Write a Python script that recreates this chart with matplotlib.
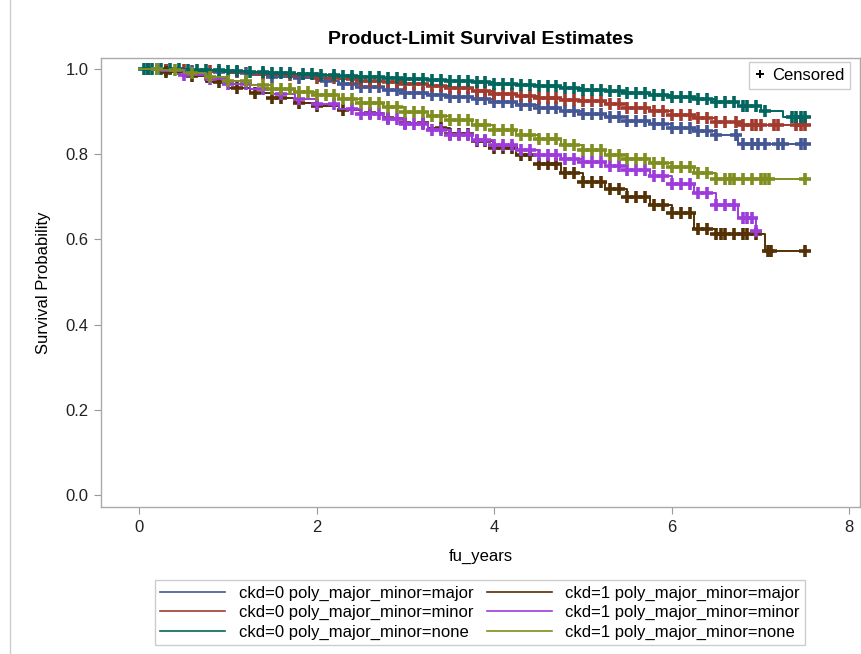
import numpy as np
import matplotlib
matplotlib.use("Agg")
import matplotlib.pyplot as plt
from matplotlib.lines import Line2D

plt.rcParams['font.family'] = ['Liberation Sans', 'DejaVu Sans']

# времена шагов и оценки выживаемости по группам
grid = [0, 0.25, 0.5, 0.75, 1.0, 1.25, 1.5, 1.75, 2.0, 2.25, 2.5, 2.75, 3.0, 3.25, 3.5,
        3.75, 4.0, 4.25, 4.5, 4.75, 5.0, 5.25, 5.5, 5.75, 6.0, 6.25, 6.5, 6.75, 7.0, 7.25, 7.5]

blue_t = grid
blue_s = [1.0, .999, .996, .993, .990, .986, .982, .978, .973, .965, .958, .951, .945, .940, .935,
          .929, .923, .916, .909, .902, .895, .887, .879, .870, .862, .855, .845, .824, .824, .824, .824]

red_t = grid
red_s = [1.0, .999, .997, .995, .992, .989, .986, .983, .980, .977, .973, .969, .965, .960, .955,
         .949, .942, .936, .932, .928, .924, .917, .909, .901, .893, .885, .875, .868, .868, .868, .868]

teal_t = grid
teal_s = [1.0, 1.0, .999, .997, .995, .993, .991, .989, .987, .984, .982, .979, .977, .974, .972,
          .969, .966, .963, .960, .956, .952, .948, .944, .939, .934, .929, .922, .914, .902, .887, .887]

brown_t = [0, 0.25, 0.5, 0.75, 1.0, 1.25, 1.5, 1.75, 2.0, 2.25, 2.5, 2.75, 3.0, 3.25, 3.5,
           3.75, 4.0, 4.25, 4.5, 4.75, 5.0, 5.25, 5.5, 5.75, 6.0, 6.25, 6.5, 6.75, 7.0, 7.05, 7.5]
brown_s = [1.0, .994, .983, .970, .956, .945, .933, .921, .913, .905, .896, .885, .874, .862, .848,
           .832, .815, .798, .778, .756, .735, .718, .700, .682, .663, .625, .612, .612, .612, .574, .574]

purple_t = [0, 0.25, 0.5, 0.75, 1.0, 1.25, 1.5, 1.75, 2.0, 2.25, 2.5, 2.75, 3.0, 3.25, 3.5,
            3.75, 4.0, 4.25, 4.5, 4.75, 5.0, 5.25, 5.5, 5.75, 6.0, 6.25, 6.5, 6.75, 6.95]
purple_s = [1.0, .996, .987, .976, .965, .953, .941, .929, .918, .906, .894, .882, .870, .858, .846,
            .834, .822, .810, .799, .790, .781, .772, .763, .750, .731, .708, .680, .650, .620]

olive_t = grid
olive_s = [1.0, .997, .990, .982, .972, .962, .954, .946, .938, .929, .920, .910, .900, .891, .880,
           .869, .858, .846, .835, .822, .809, .799, .788, .779, .770, .757, .742, .742, .742, .742, .742]

# цензурированные наблюдения
blue_c = [0.1, 0.3, 0.6, 0.9, 1.2, 1.5, 1.8, 2.1, 2.3, 2.4, 2.5, 2.6, 2.7, 2.8, 2.9, 3.0, 3.1, 3.2,
          3.3, 3.4, 3.5, 3.6, 3.7, 3.8, 3.9, 4.0, 4.1, 4.2, 4.3, 4.4, 4.5, 4.6, 4.7, 4.8, 4.9, 5.0,
          5.1, 5.2, 5.3, 5.4, 5.5, 5.6, 5.7, 5.8, 5.9, 6.0, 6.1, 6.2, 6.3, 6.4, 6.5, 6.72, 6.8, 6.9,
          6.97, 7.05, 7.2, 7.25, 7.45, 7.5]
red_c = [0.1, 0.3, 0.5, 0.8, 1.1, 1.4, 1.7, 2.0, 2.2, 2.4, 2.5, 2.6, 2.7, 2.8, 2.9, 3.0, 3.1, 3.2,
         3.3, 3.4, 3.5, 3.6, 3.7, 3.8, 3.9, 4.0, 4.1, 4.2, 4.3, 4.4, 4.5, 4.6, 4.7, 4.8, 4.9, 5.0,
         5.1, 5.2, 5.3, 5.4, 5.5, 5.6, 5.7, 5.8, 5.9, 6.0, 6.1, 6.2, 6.3, 6.4, 6.5, 6.6, 6.72, 6.8,
         6.9, 6.95, 7.0, 7.15, 7.2, 7.4, 7.45, 7.5]
teal_c = [0.05, 0.1, 0.15, 0.25, 0.35, 0.45, 0.55, 0.65, 0.75, 0.9, 1.0, 1.1, 1.25, 1.4, 1.5, 1.6,
          1.7, 1.85, 1.95, 2.05, 2.2, 2.3, 2.4, 2.5, 2.6, 2.7, 2.8, 2.9, 3.0, 3.1, 3.2, 3.3, 3.4,
          3.5, 3.6, 3.7, 3.8, 3.9, 4.0, 4.1, 4.2, 4.3, 4.4, 4.5, 4.6, 4.7, 4.8, 4.9, 5.0, 5.1, 5.2,
          5.3, 5.4, 5.5, 5.6, 5.7, 5.8, 5.9, 6.0, 6.1, 6.2, 6.3, 6.4, 6.5, 6.6, 6.7, 6.8, 6.85,
          6.95, 7.05, 7.35, 7.4, 7.45, 7.5]
brown_c = [0.3, 0.6, 0.9, 1.1, 1.3, 1.5, 1.6, 1.8, 2.0, 2.3, 2.6, 2.8, 3.0, 3.2, 3.4, 3.5, 3.6,
           3.7, 3.8, 3.9, 4.0, 4.1, 4.2, 4.3, 4.4, 4.5, 4.6, 4.7, 4.8, 4.9, 5.0, 5.1, 5.2, 5.3, 5.4,
           5.5, 5.6, 5.7, 5.8, 5.9, 6.0, 6.1, 6.2, 6.3, 6.4, 6.5, 6.55, 6.6, 6.7, 6.8, 6.85, 6.95,
           7.08, 7.12, 7.5]
purple_c = [0.2, 0.5, 0.8, 1.0, 1.2, 1.4, 1.6, 1.8, 2.0, 2.2, 2.4, 2.5, 2.6, 2.7, 2.8, 2.9, 3.0,
            3.1, 3.2, 3.3, 3.4, 3.5, 3.6, 3.7, 3.8, 3.9, 4.0, 4.1, 4.2, 4.3, 4.4, 4.5, 4.6, 4.7, 4.8,
            4.9, 5.0, 5.1, 5.2, 5.3, 5.4, 5.5, 5.6, 5.7, 5.8, 5.9, 6.0, 6.1, 6.2, 6.3, 6.4, 6.5,
            6.6, 6.7, 6.8, 6.85, 6.9, 6.95]
olive_c = [0.2, 0.4, 0.6, 0.8, 1.0, 1.2, 1.4, 1.5, 1.6, 1.7, 1.8, 1.9, 2.0, 2.1, 2.2, 2.3, 2.4,
           2.5, 2.6, 2.7, 2.8, 2.9, 3.0, 3.1, 3.2, 3.3, 3.4, 3.5, 3.6, 3.7, 3.8, 3.9, 4.0, 4.1,
           4.2, 4.3, 4.4, 4.5, 4.6, 4.7, 4.8, 4.9, 5.0, 5.1, 5.2, 5.3, 5.4, 5.5, 5.6, 5.7, 5.8,
           5.9, 6.0, 6.1, 6.2, 6.3, 6.4, 6.5, 6.6, 6.65, 6.7, 6.8, 6.9, 7.0, 7.05, 7.1, 7.5]

groups = [
    ("ckd=0 poly_major_minor=major", blue_t, blue_s, blue_c, "#445694"),
    ("ckd=0 poly_major_minor=minor", red_t, red_s, red_c, "#A23A2E"),
    ("ckd=0 poly_major_minor=none", teal_t, teal_s, teal_c, "#01665E"),
    ("ckd=1 poly_major_minor=major", brown_t, brown_s, brown_c, "#543005"),
    ("ckd=1 poly_major_minor=minor", purple_t, purple_s, purple_c, "#9D3CDB"),
    ("ckd=1 poly_major_minor=none", olive_t, olive_s, olive_c, "#7F8E1F"),
]

fig = plt.figure(figsize=(8.62, 6.54), dpi=100)
ax = fig.add_axes([101 / 862, 1 - 507 / 654, 759 / 862, 449 / 654])

handles = []
for label, t, s, cens, color in groups:
    t = np.array(t)
    s = np.array(s)
    ax.plot(t, s, drawstyle="steps-post", color=color, lw=1.4)
    c = np.array(cens)
    idx = np.searchsorted(t, c, side="right") - 1
    ax.plot(c, s[idx], ls="none", marker="+", ms=8, mew=2.6, color=color)
    handles.append(Line2D([0], [0], color=color, lw=1.2, label=label))

ax.set_xlim(-0.43, 8.12)
ax.set_ylim(-0.028, 1.026)
ax.set_xticks([0, 2, 4, 6, 8])
ax.set_yticks([0.0, 0.2, 0.4, 0.6, 0.8, 1.0])
ax.set_yticklabels(["0.0", "0.2", "0.4", "0.6", "0.8", "1.0"])
ax.tick_params(direction="out", length=5, color="#999999", labelsize=12, pad=4, labelcolor="#222222")
for sp in ax.spines.values():
    sp.set_color("#aaaaaa")
    sp.set_linewidth(1.0)

ax.set_title("Product-Limit Survival Estimates", fontsize=14, fontweight="bold", pad=10)
ax.set_xlabel("fu_years", fontsize=12, labelpad=10)
ax.set_ylabel("Survival Probability", fontsize=12, labelpad=10)

cens_handle = Line2D([0], [0], ls="none", marker="+", ms=6, mew=1.4, color="black", label="Censored")
leg1 = ax.legend(handles=[cens_handle], loc="upper right", fontsize=12, handlelength=0.6,
                 handletextpad=0.4, borderpad=0.35, borderaxespad=0, fancybox=False,
                 edgecolor="#cccccc", framealpha=1, bbox_to_anchor=(0.987, 0.99))
leg1.get_frame().set_linewidth(1.0)

leg2 = fig.legend(handles=handles, ncol=2, loc="upper center", bbox_to_anchor=(480 / 862, 1 - 580 / 654),
                  borderaxespad=0, fontsize=12, handlelength=3.9, handletextpad=0.8, columnspacing=0.8,
                  labelspacing=0.25, borderpad=0.35, fancybox=False, edgecolor="#cccccc", framealpha=1)
leg2.get_frame().set_linewidth(1.0)

fig.add_artist(Line2D([10 / 862, 10 / 862], [0, 1], color="#cccccc", lw=1.0))

fig.savefig("out.png", dpi=100)
